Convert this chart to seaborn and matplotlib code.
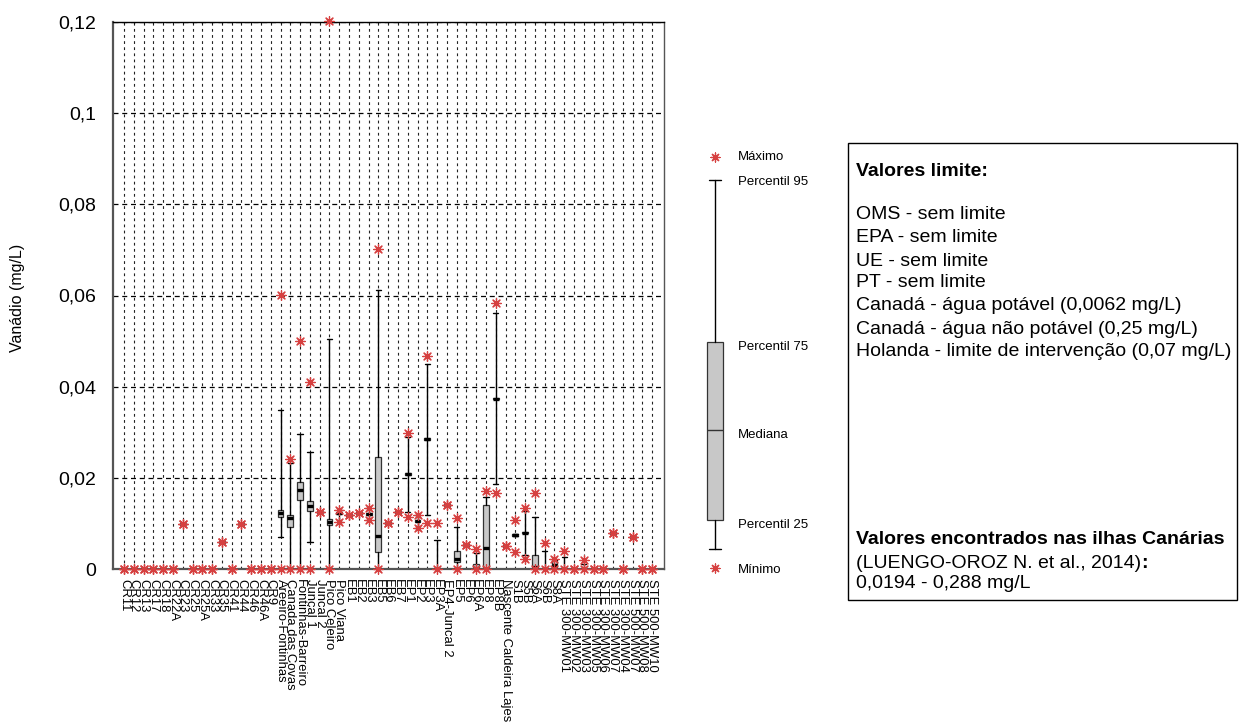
import numpy as np
import pandas as pd
import matplotlib
matplotlib.use("Agg")
import matplotlib.pyplot as plt
import seaborn as sns
from matplotlib.patches import Rectangle

# ---------------- data ----------------
labels = ["CR11", "CR12", "CR13", "CR17", "CR18", "CR22A", "CR23", "CR25", "CR25A", "CR33",
          "CR35", "CR41", "CR44", "CR46", "CR46A", "CR9", "Areeiro-Fontinhas", "Canada das Covas",
          "Fontinhas-Barreiro", "Juncal 1", "Juncal 2", "Pico Celeiro", "Pico Viana",
          "EB1", "EB2", "EB3", "EB5", "EB6", "EB7", "EP1", "EP2", "EP3", "EP3A", "EP4-Juncal 2",
          "EP5", "EP6", "EP6A", "EP8", "EP8B", "Nascente Caldeira Lajes",
          "S1B", "S5B", "S6A", "S6B", "S8A",
          "STE 300-MW01", "STE 300-MW02", "STE 300-MW03", "STE 300-MW05", "STE 300-MW06",
          "STE 300-MW07", "STE 300-MW04", "STE 500-MW07", "STE 500-MW08", "STE 500-MW10"]

vmax = [0, 0, 0, 0, 0, 0, 0.0099, 0, 0, 0, 0.0059, 0, 0.0099, 0, 0,
        0, 0.0602, 0.0241, 0.0500, 0.0410, 0.0126, 0.1202, 0.0130, 0.0118, 0.0122,
        0.0133, 0.0701, 0.0100, 0.0125, 0.0298, 0.0118, 0.0467, 0.0100, 0.0140, 0.0111,
        0.0052, 0.0043, 0.0172, 0.0583, 0.0051, 0.0107, 0.0133, 0.0167, 0.0058, 0.0021,
        0.0040, 0, 0.0020, 0, 0, 0.0078, 0, 0.0071, 0, 0]
vmin = [0, 0, 0, 0, 0, 0, 0.0099, 0, 0, 0, 0.0059, 0, 0.0099, 0, 0,
        0, 0, 0, 0, 0, 0.0126, 0, 0.0104, 0.0118, 0.0122,
        0.0107, 0, 0.0100, 0.0125, 0.0115, 0.0089, 0.0100, 0, 0.0140, 0,
        0.0052, 0, 0, 0.0166, 0.0051, 0.0038, 0.0021, 0, 0, 0,
        0, 0, 0, 0, 0, 0.0078, 0, 0.0071, 0, 0]
p5 = [0, 0, 0, 0, 0, 0, 0.0099, 0, 0, 0, 0.0059, 0, 0.0099, 0, 0,
      0, 0.0070, 0, 0, 0.0059, 0.0126, 0, 0.0104, 0.0118, 0.0122,
      0.0107, 0, 0.0100, 0.0125, 0.0124, 0.0089, 0.0118, 0, 0.0140, 0,
      0.0052, 0, 0, 0.0186, 0.0051, 0.0073, 0.0030, 0, 0, 0,
      0, 0, 0, 0, 0, 0.0078, 0, 0.0071, 0, 0]
p25 = [0, 0, 0, 0, 0, 0, 0.0099, 0, 0, 0, 0.0059, 0, 0.0099, 0, 0,
       0, 0.0114, 0.0092, 0.0151, 0.0127, 0.0126, 0.0096, 0.0121, 0.0118, 0.0122,
       0.0119, 0.0038, 0.0100, 0.0125, 0.0206, 0.0104, 0.0283, 0, 0.0140, 0.0016,
       0.0052, 0, 0, 0.0372, 0.0051, 0.0073, 0.0078, 0, 0, 0,
       0, 0, 0, 0, 0, 0.0078, 0, 0.0071, 0, 0]
med = [0, 0, 0, 0, 0, 0, 0.0099, 0, 0, 0, 0.0059, 0, 0.0099, 0, 0,
       0, 0.0123, 0.0112, 0.0173, 0.0138, 0.0126, 0.0104, 0.0123, 0.0118, 0.0122,
       0.0121, 0.0072, 0.0100, 0.0125, 0.0208, 0.0106, 0.0285, 0, 0.0140, 0.0021,
       0.0052, 0.0003, 0.0047, 0.0374, 0.0051, 0.0075, 0.0080, 0.0005, 0, 0.0008,
       0, 0, 0, 0, 0, 0.0078, 0, 0.0071, 0, 0]
p75 = [0, 0, 0, 0, 0, 0, 0.0099, 0, 0, 0, 0.0059, 0, 0.0099, 0, 0,
       0, 0.0129, 0.0118, 0.0191, 0.0149, 0.0126, 0.0109, 0.0125, 0.0118, 0.0122,
       0.0123, 0.0245, 0.0100, 0.0125, 0.0210, 0.0108, 0.0287, 0, 0.0140, 0.0040,
       0.0052, 0.0012, 0.0140, 0.0376, 0.0051, 0.0077, 0.0082, 0.0031, 0, 0.0020,
       0, 0, 0, 0, 0, 0.0078, 0, 0.0071, 0, 0]
p95 = [0, 0, 0, 0, 0, 0, 0.0099, 0, 0, 0, 0.0059, 0, 0.0099, 0, 0,
       0, 0.0349, 0.0232, 0.0296, 0.0257, 0.0126, 0.0504, 0.0130, 0.0118, 0.0122,
       0.0133, 0.0612, 0.0100, 0.0125, 0.0290, 0.0118, 0.0450, 0.0064, 0.0140, 0.0093,
       0.0052, 0.0035, 0.0159, 0.0561, 0.0051, 0.0077, 0.0128, 0.0113, 0.0040, 0.0020,
       0.0026, 0, 0.0010, 0, 0, 0.0078, 0, 0.0071, 0, 0]

yticks = [0, 0.02, 0.04, 0.06, 0.08, 0.10, 0.12]
ytick_labels = ["0", "0,02", "0,04", "0,06", "0,08", "0,1", "0,12"]

limit_title = "Valores limite:"
limit_lines = ["OMS - sem limite", "EPA - sem limite", "UE - sem limite", "PT - sem limite",
               "Canadá - água potável (0,0062 mg/L)", "Canadá - água não potável (0,25 mg/L)",
               "Holanda - limite de intervenção (0,07 mg/L)"]
canary_title = "Valores encontrados nas ilhas Canárias"
canary_ref = "(LUENGO-OROZ N. et al., 2014)"
canary_range = "0,0194 - 0,288 mg/L"

legend_labels = ["Máximo", "Percentil 95", "Percentil 75", "Mediana", "Percentil 25", "Mínimo"]

# ---------------- style ----------------
sns.set_style("white")
plt.rcParams["font.family"] = ["Liberation Sans", "DejaVu Sans"]
plt.rcParams["text.color"] = "black"
plt.rcParams["xtick.color"] = "black"
plt.rcParams["ytick.color"] = "black"
plt.rcParams["axes.labelcolor"] = "black"

W, H = 1241, 722
fig = plt.figure(figsize=(W / 100, H / 100), dpi=100)
ax = fig.add_axes([113 / W, 1 - 569 / H, (664 - 113) / W, (569 - 22) / H])

STAR = "#d64040"
pos = np.arange(len(labels))

stats = [dict(med=med[i], q1=p25[i], q3=p75[i], whislo=p5[i], whishi=p95[i],
              fliers=[], label=labels[i]) for i in range(len(labels))]
ax.bxp(stats, positions=pos, widths=0.6, capwidths=0.55, patch_artist=True,
       showfliers=False, manage_ticks=False,
       boxprops=dict(facecolor="#c8c8c8", edgecolor="#333333", linewidth=0.9),
       medianprops=dict(color="black", linewidth=2.4, solid_capstyle="butt"),
       whiskerprops=dict(color="black", linewidth=1.0),
       capprops=dict(color="black", linewidth=1.0))

df = pd.DataFrame({"x": np.concatenate([pos, pos]),
                   "v": np.array(vmax + vmin, dtype=float)})
sns.scatterplot(data=df, x="x", y="v", marker=(8, 2, 0), s=48, color=STAR,
                linewidth=0.9, ax=ax, zorder=6, clip_on=False, legend=False)

ax.set_xlim(-1.13, 55.2)
ax.set_ylim(0, 0.12)
ax.set_xlabel("")
ax.set_ylabel("")
ax.set_xticks(pos)
ax.set_xticklabels(labels, rotation=270, fontsize=9.4, ha="center", va="top")
ax.set_yticks(yticks)
ax.set_yticklabels(ytick_labels, fontsize=14)
ax.set_yticks(np.arange(0.01, 0.12, 0.02), minor=True)
ax.tick_params(axis="y", which="major", direction="out", length=8, width=1, color="#555555",
               labelcolor="black", pad=4)
ax.tick_params(axis="y", which="minor", direction="out", length=4, width=1, color="#555555")
ax.tick_params(axis="x", which="major", direction="out", length=4, width=1, color="#333333",
               labelcolor="black", pad=3)
ax.set_axisbelow(True)
ax.yaxis.grid(True, which="major", linestyle=(0, (4, 3)), color="black", linewidth=0.9)
ax.xaxis.grid(True, which="major", linestyle=(0, (2.5, 3)), color="#222222", linewidth=0.8)
for side, sp in ax.spines.items():
    sp.set_visible(True)
    sp.set_color("#555555" if side in ("left", "bottom", "right") else "black")
    sp.set_linewidth(1.6 if side in ("left", "bottom") else 1.0)

fig.text(18 / W, 1 - 298 / H, "Vanádio (mg/L)", rotation=90, ha="center", va="center", fontsize=11.5)

# ---------------- legend schematic ----------------
lax = fig.add_axes([690 / W, 1 - 600 / H, 140 / W, 460 / H])
lax.set_xlim(690, 830)
lax.set_ylim(600, 140)
lax.axis("off")
lax.bxp([dict(med=430, q1=520, q3=342, whislo=549, whishi=180, fliers=[])],
        positions=[715], widths=16, capwidths=12, patch_artist=True, showfliers=False,
        manage_ticks=False,
        boxprops=dict(facecolor="#c8c8c8", edgecolor="#333333", linewidth=0.9),
        medianprops=dict(color="#333333", linewidth=1.0),
        whiskerprops=dict(color="black", linewidth=1.0),
        capprops=dict(color="black", linewidth=1.0))
lax.scatter([715, 715], [157, 568], marker=(8, 2, 0), s=42, color=STAR, linewidth=0.9,
            clip_on=False, zorder=5)
for lbl, yy in zip(legend_labels, [157, 182, 347, 435, 525, 570]):
    lax.text(738, yy, lbl, fontsize=9.5, ha="left", va="center")

# ---------------- text box ----------------
fig.patches.append(Rectangle((848 / W, 1 - 600 / H), (1237 - 848) / W, (600 - 143) / H,
                             transform=fig.transFigure, fill=False, edgecolor="black",
                             linewidth=1.0))
fig.text(856 / W, 1 - 172 / H, limit_title, fontsize=14, fontweight="bold", va="center")
for txt, yy in zip(limit_lines, [215, 238, 261, 283, 306, 329, 352]):
    fig.text(856 / W, 1 - yy / H, txt, fontsize=14, va="center")
fig.text(856 / W, 1 - 540 / H, canary_title, fontsize=14, fontweight="bold", va="center")
t = fig.text(856 / W, 1 - 563 / H, canary_ref, fontsize=14, va="center")
fig.canvas.draw()
bb = t.get_window_extent()
fig.text(bb.x1 / W, 1 - 563 / H, ":", fontsize=14, fontweight="bold", va="center")
fig.text(856 / W, 1 - 584 / H, canary_range, fontsize=14, va="center")

fig.savefig("out.png", dpi=100, facecolor="white")
